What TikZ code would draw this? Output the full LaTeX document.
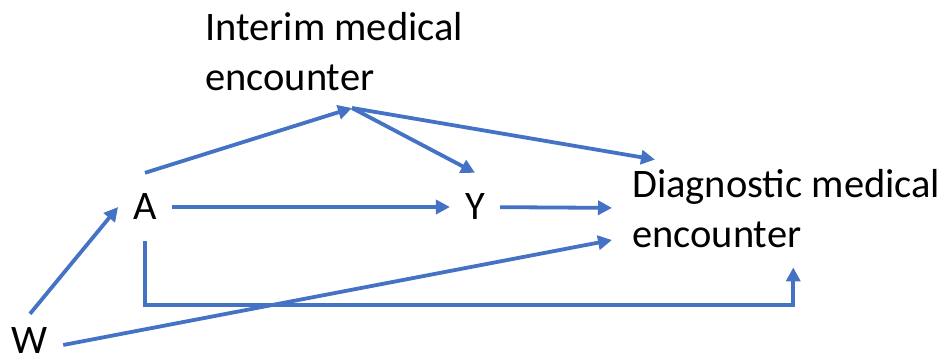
\documentclass[tikz,border=0pt]{standalone}
\usepackage{fontspec}
\setmainfont{Carlito}
\usetikzlibrary{arrows.meta}
\definecolor{officeblue}{HTML}{4472C4}
\begin{document}
\begin{tikzpicture}[x=1pt,y=-1pt,
    arr/.style={-{Triangle[length=14pt,width=14pt]}, line width=3.8pt, officeblue},
    var/.style={font=\fontsize{40.5}{50}\selectfont, inner xsep=15pt, inner ysep=21pt},
    lbl/.style={font=\fontsize{40.5}{50}\selectfont, align=left, inner sep=0pt}]
    \useasboundingbox (0,0) rectangle (942,358);
    \node[var] (A) at (145,207) {A};
    \node[var] (Y) at (475,207) {Y};
    \node[var, inner ysep=4pt] (W) at (30,341) {W};
    \node[lbl, anchor=north west] (interim) at (205,12) {Interim medical\\encounter};
    \node[lbl, anchor=west, inner xsep=20pt, inner ysep=10pt] (diag) at (612,209) {Diagnostic medical\\encounter};
    \coordinate (hub) at (352,108);
    % paths through the interim encounter
    \draw[arr] (A.north) -- (hub);
    \draw[arr] (hub) -- (Y.north);
    \draw[arr] (hub) -- ([xshift=43pt]diag.north west);
    % direct paths
    \draw[arr] (A) -- (Y);
    \draw[arr] (Y) -- (diag);
    \draw[arr] ([yshift=10pt]W.north) -- (A.west);
    \draw[arr] ([yshift=-4pt]W.east) -- ([yshift=-31pt]diag.west);
    \draw[arr] (A.south) -- ++(0,64) -| ([xshift=7pt,yshift=-9pt]diag.south);
\end{tikzpicture}
\end{document}
